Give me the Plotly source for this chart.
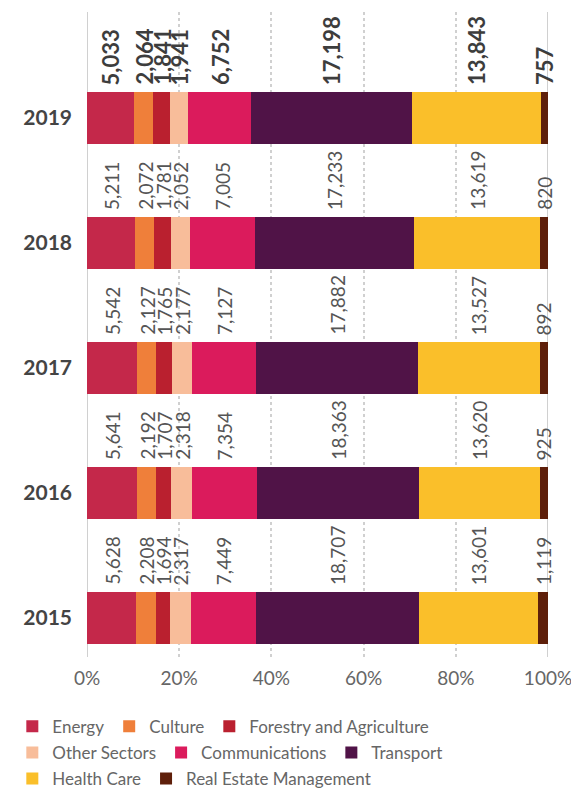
import plotly.graph_objects as go

years = ["2015", "2016", "2017", "2018", "2019"]
sectors = ["Energy", "Culture", "Forestry and Agriculture", "Other Sectors",
           "Communications", "Transport", "Health Care", "Real Estate Management"]
colors = ["#C4284A", "#EF7F3A", "#BA202F", "#F8BD9A",
          "#DB1B5C", "#501347", "#FABF2A", "#5E1F0A"]
legend_rows = ["legend", "legend", "legend", "legend2", "legend2", "legend2", "legend3", "legend3"]

energy = [5628, 5641, 5542, 5211, 5033]
culture = [2208, 2192, 2127, 2072, 2064]
forestry = [1694, 1707, 1765, 1781, 1841]
other = [2317, 2318, 2177, 2052, 1941]
communications = [7449, 7354, 7127, 7005, 6752]
transport = [18707, 18363, 17882, 17233, 17198]
health = [13601, 13620, 13527, 13619, 13843]
real_estate = [1119, 925, 892, 820, 757]

x_ticks = [0, 20, 40, 60, 80, 100]
x_ticktext = ["0%", "20%", "40%", "60%", "80%", "100%"]

series = [energy, culture, forestry, other, communications, transport, health, real_estate]
ypos = list(range(len(years)))
BAR_W = 0.416

fig = go.Figure()
for name, vals, col, lg in zip(sectors, series, colors, legend_rows):
    fig.add_trace(go.Bar(
        y=ypos, x=vals, name=name, orientation="h",
        marker=dict(color=col, line=dict(width=0)), width=BAR_W,
        legend=lg,
    ))

totals = [sum(s[i] for s in series) for i in range(len(years))]
annotations = []
for i, yr in enumerate(years):
    cum = 0
    last = (i == len(years) - 1)
    for vals in series:
        v = vals[i]
        mid = (cum + v / 2) / totals[i] * 100
        cum += v
        annotations.append(dict(
            x=mid, y=i + BAR_W / 2, xref="x", yref="y",
            text=f"<b>{v:,}</b>" if last else f"{v:,}",
            textangle=-90, showarrow=False, xanchor="center", yanchor="bottom",
            yshift=5,
            font=dict(family="Lato", size=22 if last else 19,
                      color="#3d3d3d" if last else "#555555"),
        ))

leg_common = dict(orientation="h", xanchor="left", yanchor="top",
                  font=dict(family="Lato", size=17, color="#666"),
                  traceorder="normal", itemsizing="constant",
                  bgcolor="rgba(0,0,0,0)", borderwidth=0)
LX = -0.162

fig.update_layout(
    barmode="stack", barnorm="percent",
    width=571, height=781,
    margin=dict(l=79, r=31, t=4, b=132, autoexpand=False),
    plot_bgcolor="white", paper_bgcolor="white",
    font=dict(family="Lato", color="#666"),
    annotations=annotations,
    showlegend=True,
    legend=dict(x=LX, y=-0.080, **leg_common),
    legend2=dict(x=LX, y=-0.121, **leg_common),
    legend3=dict(x=LX, y=-0.161, **leg_common),
    xaxis=dict(range=[0, 100], tickvals=x_ticks, ticktext=x_ticktext,
               showgrid=True, gridcolor="#d0d0d0", griddash="dot", gridwidth=1.5,
               zeroline=False, showline=False, ticks="", automargin=False,
               tickfont=dict(family="Lato", size=19, color="#666"),
               ticklabelstandoff=8, fixedrange=True),
    yaxis=dict(range=[-0.312, 4.848], tickvals=ypos, ticktext=[f"<b>{y}</b>" for y in years],
               showgrid=False, zeroline=False, showline=False, ticks="", automargin=False,
               tickfont=dict(family="Lato", size=21, color="#444"),
               ticklabelstandoff=14),
    shapes=[
        dict(type="line", xref="x", yref="paper", x0=0, x1=0, y0=0, y1=1,
             line=dict(color="#d0d0d0", width=2), layer="below"),
        dict(type="line", xref="x", yref="paper", x0=100, x1=100, y0=0, y1=1,
             line=dict(color="#d0d0d0", width=2), layer="below"),
    ],
)

fig.write_html("out.html")
